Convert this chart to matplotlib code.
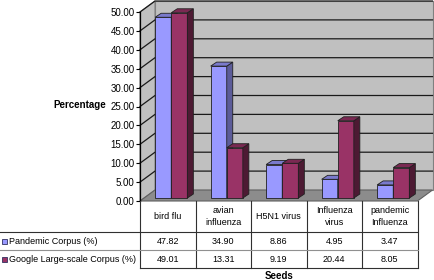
import matplotlib
matplotlib.use("Agg")
import matplotlib.pyplot as plt
from matplotlib.patches import Polygon, Rectangle
from matplotlib.lines import Line2D
from matplotlib.transforms import Affine2D

plt.rcParams['font.family'] = ['Liberation Sans', 'DejaVu Sans']

# --- dados ---
seeds = ["bird flu", "avian\ninfluenza", "H5N1 virus", "Influenza\nvirus", "pandemic\nInfluenza"]
series_names = ["Pandemic Corpus (%)", "Google Large-scale Corpus (%)"]
pandemic = [47.82, 34.90, 8.86, 4.95, 3.47]
google = [49.01, 13.31, 9.19, 20.44, 8.05]
yticks = [0, 5, 10, 15, 20, 25, 30, 35, 40, 45, 50]

# cores: frente, lado, topo
cores = [("#9999ff", "#5c5c99", "#7a7acc"), ("#993366", "#4d1a33", "#7a2952")]

W, H = 434, 280
fig = plt.figure(figsize=(W / 100, H / 100), dpi=100)
px = Affine2D().scale(1 / W, -1 / H).translate(0, 1) + fig.transFigure

x0, x1, ytop, ybot = 140, 417.5, 12, 201
ax = fig.add_axes([x0 / W, (H - ybot) / H, (x1 - x0) / W, (ybot - ytop) / H])
n = len(seeds)
ax.set_xlim(0, n)
ax.set_ylim(0, 50)
ax.set_facecolor("none")

# profundidade da "caixa" 3D em unidades de dados
ux = (x1 - x0) / n
uy = (ybot - ytop) / 50
DX, DY = 15 / ux, 11 / uy

# paredes e chão
ax.add_patch(Polygon([(DX, DY), (n + DX, DY), (n + DX, 50 + DY), (DX, 50 + DY)],
                     closed=True, fc="#c0c0c0", ec="#808080", lw=0.8, clip_on=False, zorder=1))
ax.add_patch(Polygon([(0, 0), (DX, DY), (DX, 50 + DY), (0, 50)],
                     closed=True, fc="#c0c0c0", ec="#808080", lw=0.8, clip_on=False, zorder=1))
ax.add_patch(Polygon([(0, 0), (n, 0), (n + DX, DY), (DX, DY)],
                     closed=True, fc="#8c8c8c", ec="#606060", lw=0.8, clip_on=False, zorder=1))
for t in yticks[1:]:
    ax.plot([0, DX, n + DX], [t, t + DY, t + DY], color="#1a1a1a", lw=0.9,
            clip_on=False, zorder=2)

# barras com falso 3D
fx, fy = 0.27 * DX, 0.27 * DY
bx, by = 6 / ux, 4 / uy
bw = 0.29
for s, vals in enumerate([pandemic, google]):
    front, side, top = cores[s]
    for i, v in enumerate(vals):
        z = 4 + i * 2 + s * 0.5
        left = i + 0.2 + s * bw + fx
        ax.bar(left, v, width=bw, bottom=fy, align="edge", color=front,
               edgecolor="#202020", lw=0.6, zorder=z, clip_on=False)
        yt = v + fy
        ax.add_patch(Polygon([(left + bw, fy), (left + bw + bx, fy + by),
                              (left + bw + bx, yt + by), (left + bw, yt)],
                             closed=True, fc=side, ec="#202020", lw=0.6, clip_on=False,
                             zorder=z))
        ax.add_patch(Polygon([(left, yt), (left + bw, yt), (left + bw + bx, yt + by),
                              (left + bx, yt + by)],
                             closed=True, fc=top, ec="#202020", lw=0.6, clip_on=False,
                             zorder=z))

ax.set_xticks([])
ax.set_yticks(yticks)
ax.set_yticklabels([f"{t:.2f}" for t in yticks], fontsize=7)
ax.tick_params(axis="y", length=3, width=0.8, pad=1)
for k in ["top", "right", "bottom"]:
    ax.spines[k].set_visible(False)
ax.spines["left"].set_linewidth(0.9)
ax.spines["left"].set_zorder(3)

fig.text(80, 105, "Percentage", transform=px, fontsize=7, fontweight="bold",
         ha="center", va="center")
fig.text(279, 276, "Seeds", transform=px, fontsize=7, fontweight="bold",
         ha="center", va="center")

# tabela de dados
cols = [x0 + ux * i for i in range(n + 1)]
rows = [201, 232, 250, 268]
lc = "#303030"
for c in cols:
    fig.add_artist(Line2D([c, c], [rows[0], rows[-1]], transform=px, color=lc, lw=0.8))
fig.add_artist(Line2D([0, cols[-1]], [rows[1], rows[1]], transform=px, color=lc, lw=0.8))
fig.add_artist(Line2D([0, cols[-1]], [rows[2], rows[2]], transform=px, color="#909090", lw=0.8))
fig.add_artist(Line2D([cols[0], cols[-1]], [rows[3], rows[3]], transform=px, color=lc, lw=0.8))

for i, lab in enumerate(seeds):
    cx = (cols[i] + cols[i + 1]) / 2
    fig.text(cx, (rows[0] + rows[1]) / 2, lab, transform=px, fontsize=6.5,
             ha="center", va="center", linespacing=1.3)
    for r, vals in enumerate([pandemic, google]):
        fig.text(cx, (rows[r + 1] + rows[r + 2]) / 2 + 0.5, f"{vals[i]:.2f}", transform=px,
                 fontsize=6.5, ha="center", va="center")

for r, nome in enumerate(series_names):
    yc = (rows[r + 1] + rows[r + 2]) / 2
    fig.add_artist(Rectangle((2, yc - 2), 5, 5, transform=px, fc=cores[r][0],
                             ec="#303060", lw=0.6))
    fig.text(9, yc + 0.5, nome, transform=px, fontsize=6.5, ha="left", va="center")

fig.savefig("out.png", dpi=100)
